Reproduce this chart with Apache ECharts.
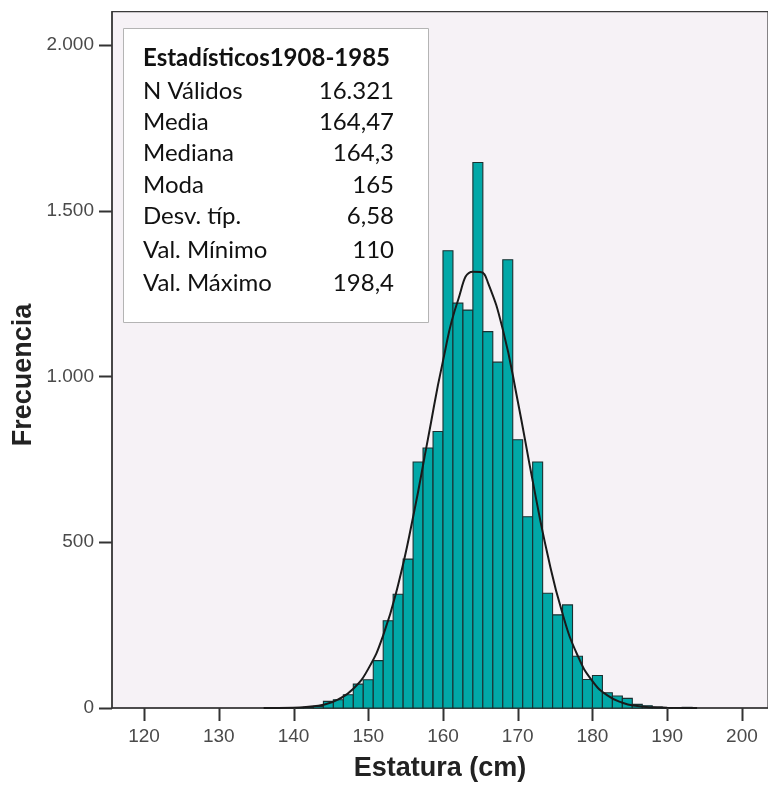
<!DOCTYPE html>
<html>
<head>
<meta charset="utf-8">
<script src="https://cdn.jsdelivr.net/npm/echarts@6/dist/echarts.min.js"></script>
<style>
html,body{margin:0;padding:0;background:#fff;}
#chart{width:768px;height:787px;}
</style>
</head>
<body>
<div id="chart"></div>
<script>
// ---- data ----
const binStart = [140.00,141.33,142.67,144.00,145.33,146.67,148.00,149.33,150.67,152.00,
                  153.33,154.67,156.00,157.33,158.67,160.00,161.33,162.67,164.00,165.33,
                  166.67,168.00,169.33,170.67,172.00,173.33,174.67,176.00,177.33,178.67,
                  180.00,181.33,182.67,184.00,185.33,186.67,188.00,189.33,190.67,192.00];
const binCounts = [1,2,5,20,25,40,72,85,143,263,
                   343,449,742,784,834,1379,1221,1200,1645,1135,
                   1043,1352,809,577,742,346,281,311,156,86,
                   98,46,36,29,11,7,3,1,0,2];
const binWidth = 1.333;

const curveX = [136,140,142,144,146,148,150,152,154,156,158,160,162,164,165,166,168,170,172,174,176,178,180,182,184,186,188,190,194];
const curveY = [0,1,4,10,26,58,118,219,372,576,813,1047,1229,1316,1315,1284,1142,926,685,462,284,159,81,38,16,6,2,1,0];

const xTicks = [120,130,140,150,160,170,180,190,200];
const yTicks = [0,500,1000,1500,2000];
const yTickLabels = ['0','500','1.000','1.500','2.000'];

const statsTitle = 'Estadísticos1908-1985';
const statsLabels = ['N Válidos','Media','Mediana','Moda','Desv. típ.','Val. Mínimo','Val. Máximo'];
const statsValues = ['16.321','164,47','164,3','165','6,58','110','198,4'];

const xAxisTitle = 'Estatura (cm)';
const yAxisTitle = 'Frecuencia';

// ---- chart ----
const X_MIN = 115.71, X_MAX = 203.49, Y_MIN = 0, Y_MAX = 2100;
const TICK_LEN = 13;
const chart = echarts.init(document.getElementById('chart'), null, {renderer:'canvas'});

const barData = binStart.map((s,i)=>[s, s+binWidth, binCounts[i]]).filter(d=>d[2]>0);
const curveData = curveX.map((x,i)=>[x, curveY[i]]);
const tickData = xTicks.map(v=>[0, v]).concat(yTicks.map(v=>[1, v]));

const graphics = [];
graphics.push({type:'rect', left:123, top:28, z:100,
  shape:{width:305, height:294},
  style:{fill:'#ffffff', stroke:'#b4b4b4', lineWidth:1}});
const rowY = [58, 91.5, 122, 153.5, 185, 216.5, 250, 283];
graphics.push({type:'text', x:143, y:rowY[0], z:101,
  style:{text:statsTitle, fill:'#111', font:'bold 24px Lato', textVerticalAlign:'middle', textAlign:'left'}});
statsLabels.forEach((lab,i)=>{
  graphics.push({type:'text', x:143, y:rowY[i+1], z:101,
    style:{text:lab, fill:'#111', font:'24px Lato', textVerticalAlign:'middle', textAlign:'left'}});
  graphics.push({type:'text', x:394, y:rowY[i+1], z:101,
    style:{text:statsValues[i], fill:'#111', font:'24px Lato', textVerticalAlign:'middle', textAlign:'right'}});
});
graphics.push({type:'text', x:24, y:375, rotation:Math.PI/2, z:101,
  style:{text:yAxisTitle, fill:'#222', font:'bold 27px "Liberation Sans"', textVerticalAlign:'middle', textAlign:'center'}});

const option = {
  animation:false,
  backgroundColor:'#ffffff',
  grid:{left:112, top:11.7, right:-5, bottom:77, show:true, backgroundColor:'#F6F2F6', borderColor:'#3a3a3a', borderWidth:1.2},
  xAxis:{
    type:'value', min:X_MIN, max:X_MAX,
    name:xAxisTitle, nameLocation:'middle', nameGap:47,
    nameTextStyle:{fontFamily:'Liberation Sans', fontWeight:'bold', fontSize:27, color:'#222'},
    axisLine:{show:true, lineStyle:{color:'#333', width:1.5}},
    axisTick:{show:false},
    axisLabel:{customValues:xTicks, fontFamily:'Liberation Sans', fontSize:19, color:'#4a4a4a', margin:19},
    splitLine:{show:false}
  },
  yAxis:{
    type:'value', min:Y_MIN, max:Y_MAX,
    axisLine:{show:true, lineStyle:{color:'#333', width:1.5}},
    axisTick:{show:false},
    axisLabel:{customValues:yTicks, fontFamily:'Liberation Sans', fontSize:19, color:'#4a4a4a', margin:18,
      formatter:(v)=>{const i=yTicks.indexOf(v); return i>=0?yTickLabels[i]:'';}},
    splitLine:{show:false}
  },
  series:[
    {
      type:'custom',
      data:barData,
      encode:{x:[0,1], y:2},
      renderItem:(params, api)=>{
        const x0=api.value(0), x1=api.value(1), y=api.value(2);
        const p0=api.coord([x0,y]); const p1=api.coord([x1,0]);
        return {type:'rect', shape:{x:p0[0], y:p0[1], width:p1[0]-p0[0], height:p1[1]-p0[1]},
          style:{fill:'#01A8A7', stroke:'#1a3030', lineWidth:1.1}};
      },
      z:2
    },
    {
      type:'line',
      data:curveData,
      smooth:true,
      symbol:'none',
      lineStyle:{color:'#1a1a1a', width:2},
      z:3
    },
    {
      // axis tick marks, placed through the axis scales
      type:'custom',
      clip:false,
      silent:true,
      data:tickData,
      encode:{x:-1, y:-1},
      renderItem:(params, api)=>{
        const kind=api.value(0), v=api.value(1);
        let p, shape;
        if(kind===0){ p=api.coord([v, Y_MIN]); shape={x1:Math.round(p[0])+0.5, y1:p[1], x2:Math.round(p[0])+0.5, y2:p[1]+TICK_LEN}; }
        else { p=api.coord([X_MIN, v]); shape={x1:p[0], y1:Math.round(p[1])+0.5, x2:p[0]-TICK_LEN, y2:Math.round(p[1])+0.5}; }
        return {type:'line', shape:shape, style:{stroke:'#333', lineWidth:2}};
      },
      z:4
    }
  ],
  graphic:graphics
};
chart.setOption(option);
</script>
</body>
</html>
